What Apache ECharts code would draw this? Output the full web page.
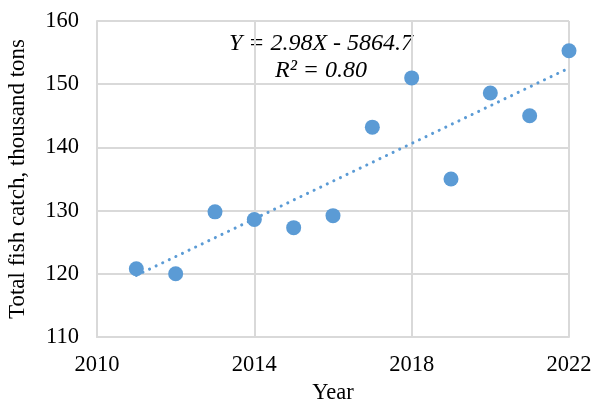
<!DOCTYPE html>
<html>
<head>
<meta charset="utf-8">
<script src="https://cdn.jsdelivr.net/npm/echarts@6/dist/echarts.min.js"></script>
<style>
  html, body { margin: 0; padding: 0; background: #fff; }
  #chart { width: 593px; height: 406px; }
</style>
</head>
<body>
<div id="chart"></div>
<script>
// Annual total fish catch (thousand tons)
const years = [2011, 2012, 2013, 2014, 2015, 2016, 2017, 2018, 2019, 2020, 2021, 2022];
const catchValues = [120.8, 120.0, 129.8, 128.6, 127.3, 129.2, 143.2, 151.0, 135.0, 148.6, 145.0, 155.3];
const equationLines = ['Y = 2.98X - 5864.7', 'R² = 0.80'];

// Least-squares linear trend through the observations
function linearFit(xs, ys) {
  const n = xs.length;
  const mx = xs.reduce((a, b) => a + b, 0) / n;
  const my = ys.reduce((a, b) => a + b, 0) / n;
  let sxy = 0, sxx = 0;
  for (let i = 0; i < n; i++) {
    sxy += (xs[i] - mx) * (ys[i] - my);
    sxx += (xs[i] - mx) * (xs[i] - mx);
  }
  const slope = sxy / sxx;
  return { slope, intercept: my - slope * mx };
}
const fit = linearFit(years, catchValues);
const xFirst = years[0], xLast = years[years.length - 1];
const trendPoints = [
  [xFirst, fit.slope * xFirst + fit.intercept],
  [xLast, fit.slope * xLast + fit.intercept]
];

const FONT = 'Liberation Serif';
const BLUE = '#5B9BD5';
const GRID = '#D9D9D9';
const LABEL_SIZE = 22.5;

const chart = echarts.init(document.getElementById('chart'), null, { renderer: 'canvas' });
chart.setOption({
  backgroundColor: '#fff',
  animation: false,
  grid: { left: 97, right: 24, top: 21, bottom: 69, containLabel: false, outerBoundsMode: 'none' },
  xAxis: {
    type: 'value',
    min: 2010, max: 2022, interval: 4,
    name: 'Year', nameLocation: 'middle', nameGap: 43,
    nameTextStyle: { fontFamily: FONT, fontSize: LABEL_SIZE, color: '#000' },
    axisLine: { show: true, lineStyle: { color: GRID, width: 2 } },
    axisTick: { show: false },
    axisLabel: { fontFamily: FONT, fontSize: LABEL_SIZE, color: '#000', margin: 17,
                 formatter: v => String(v) },
    splitLine: { show: true, lineStyle: { color: GRID, width: 2 } }
  },
  yAxis: {
    type: 'value',
    min: 110, max: 160, interval: 10,
    name: 'Total fish catch, thousand tons', nameLocation: 'middle', nameGap: 68,
    nameTextStyle: { fontFamily: FONT, fontSize: 23, color: '#000' },
    axisLine: { show: true, lineStyle: { color: GRID, width: 2 } },
    axisTick: { show: false },
    axisLabel: { fontFamily: FONT, fontSize: LABEL_SIZE, color: '#000', margin: 18 },
    splitLine: { show: true, lineStyle: { color: GRID, width: 2 } }
  },
  series: [
    {
      type: 'line',
      data: trendPoints,
      showSymbol: false,
      symbol: 'none',
      silent: true,
      lineStyle: { color: BLUE, width: 3, type: [0.1, 7.2], cap: 'round' },
      z: 2
    },
    {
      type: 'scatter',
      data: years.map((y, i) => [y, catchValues[i]]),
      symbol: 'circle',
      symbolSize: 15,
      itemStyle: { color: BLUE, opacity: 1 },
      z: 3
    }
  ],
  graphic: [
    {
      type: 'text', x: 321, y: 44,
      style: {
        text: equationLines[0], fill: '#000',
        font: 'italic 24px "Liberation Serif"',
        textAlign: 'center', textVerticalAlign: 'middle'
      }
    },
    {
      type: 'text', x: 321, y: 71,
      style: {
        text: equationLines[1], fill: '#000',
        font: 'italic 24px "Liberation Serif"',
        textAlign: 'center', textVerticalAlign: 'middle'
      }
    }
  ]
});
</script>
</body>
</html>
